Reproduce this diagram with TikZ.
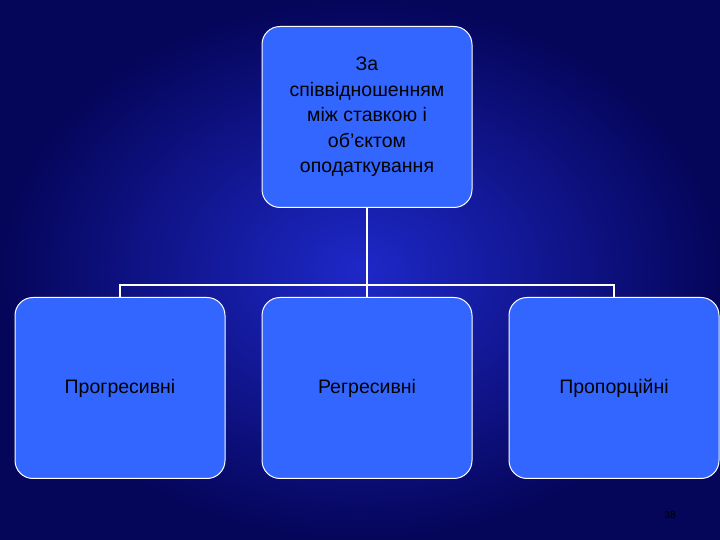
\documentclass[tikz,border=0pt]{standalone}
\usepackage{fontspec}
\setmainfont{Liberation Sans}
\begin{document}
\begin{tikzpicture}[x=1pt,y=1pt,
  box/.style={draw=white,line width=1pt,fill={rgb,255:red,51;green,102;blue,255},rounded corners=18pt,minimum width=210pt,minimum height=181pt,align=center,font=\fontsize{19.5}{25.5}\selectfont,text=black},
  conn/.style={draw=white,line width=1.5pt}]
\useasboundingbox (0,0) rectangle (720,540);
\fill[inner color={rgb,255:red,30;green,40;blue,200},outer color={rgb,255:red,5;green,5;blue,90}] (0,0) rectangle (720,540);
\node[box] (top) at (367,423) {За\\співвідношенням\\між ставкою і\\об'єктом\\оподаткування};
\node[box] (b1) at (120,152) {Прогресивні};
\node[box] (b2) at (367,152) {Регресивні};
\node[box] (b3) at (614,152) {Пропорційні};
\coordinate (m) at (367,255);
\draw[conn] (top.south) -- (m);
\draw[conn] (b1.north) -- (b1.north|-m) -- (b3.north|-m) -- (b3.north);
\draw[conn] (m) -- (b2.north);
\node[font=\fontsize{10}{12}\selectfont,text=black] (pg) at (670,25) {38};
\end{tikzpicture}
\end{document}
